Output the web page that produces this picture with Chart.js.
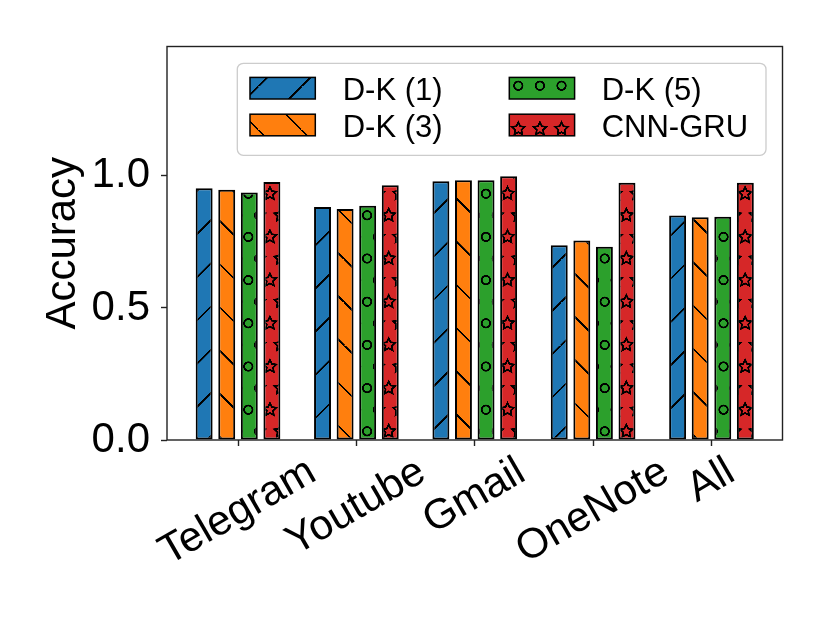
<!DOCTYPE html>
<html>
<head>
<meta charset="utf-8">
<script src="https://cdn.jsdelivr.net/npm/chart.js@4.4.1/dist/chart.umd.min.js"></script>
<style>
  html, body { margin: 0; padding: 0; background: #fff; }
  #wrap { width: 830px; height: 623px; }
</style>
</head>
<body>
<div id="wrap"><canvas id="accChart" width="830" height="623"></canvas></div>
<script>
// values
const categories = ['Telegram', 'Youtube', 'Gmail', 'OneNote', 'All'];
const seriesNames = ['D-K (1)', 'D-K (3)', 'D-K (5)', 'CNN-GRU'];
const dk1 = [0.953, 0.882, 0.980, 0.737, 0.850];
const dk3 = [0.948, 0.875, 0.984, 0.755, 0.843];
const dk5 = [0.937, 0.887, 0.984, 0.732, 0.845];
const cnnGru = [0.977, 0.965, 0.999, 0.974, 0.974];
const yTicks = [0.0, 0.5, 1.0];

const FONT = '"Liberation Sans", Arial, Helvetica, sans-serif';
const BIG = 42;
const canvas = document.getElementById('accChart');
const ctx = canvas.getContext('2d');

// hatch tiles are drawn 5x larger and scaled back so the period can be fractional
const K = 5;
function hatchPattern(base, w, h, ox, oy, drawFn) {
    const c = document.createElement('canvas');
    c.width = Math.round(w * K);
    c.height = Math.round(h * K);
    const g = c.getContext('2d');
    g.fillStyle = base;
    g.fillRect(0, 0, c.width, c.height);
    g.scale(K, K);
    g.strokeStyle = '#000';
    g.lineWidth = 1.8;
    drawFn(g, w, h);
    const p = ctx.createPattern(c, 'repeat');
    p.setTransform(new DOMMatrix().translate(ox, oy).scale(1 / K));
    return p;
}

const LINE = 43.2;   // spacing of the diagonal hatch
const CELL = 21.6;   // spacing of the circle / star hatch

function shapeSpots(w, h) {
    return [[0, 0], [w, 0], [0, h], [w, h], [w / 2, h / 2]];
}

function starPath(g, cx, cy, r) {
    g.beginPath();
    for (let k = 0; k < 10; k++) {
        const rad = k % 2 === 0 ? r : r * 0.5;
        const a = -Math.PI / 2 + k * Math.PI / 5;
        const px = cx + rad * Math.cos(a);
        const py = cy + rad * Math.sin(a);
        if (k === 0) g.moveTo(px, py); else g.lineTo(px, py);
    }
    g.closePath();
    g.stroke();
}

const patBlue = hatchPattern('#1f77b4', LINE, LINE, 517.5, 0, (g, w) => {
    g.beginPath();
    for (let k = -1; k <= 1; k++) {
        g.moveTo(k * w, w);
        g.lineTo(k * w + w, 0);
    }
    g.stroke();
});

const patOrange = hatchPattern('#ff7f0e', LINE, LINE, -130.8, 0, (g, w) => {
    g.beginPath();
    for (let k = -1; k <= 1; k++) {
        g.moveTo(k * w, 0);
        g.lineTo(k * w + w, w);
    }
    g.stroke();
});

const patGreen = hatchPattern('#2ca02c', CELL, CELL * 2, 248.3, 323.3, (g, w, h) => {
    shapeSpots(w, h).forEach(([x, y]) => {
        g.beginPath();
        g.arc(x, y, 4.2, 0, Math.PI * 2);
        g.stroke();
    });
});

const patRed = hatchPattern('#d62728', CELL, CELL * 2, 248.3, 323.3, (g, w, h) => {
    shapeSpots(w, h).forEach(([x, y]) => starPath(g, x, y, 6.6));
});

const seriesValues = [dk1, dk3, dk5, cnnGru];
const seriesFills = [patBlue, patOrange, patGreen, patRed];

const datasets = seriesNames.map((name, s) => ({
    label: name,
    data: seriesValues[s].map((v, i) => ({ x: i, y: v })),
    backgroundColor: seriesFills[s],
    borderColor: '#000',
    borderWidth: 2,
    borderSkipped: false,
    categoryPercentage: 0.763,
    barPercentage: 0.75
}));

// box around the plot area, like the matplotlib spines
const framePlugin = {
    id: 'frame',
    afterDraw(chart) {
        const a = chart.chartArea;
        const c = chart.ctx;
        c.save();
        c.strokeStyle = '#222';
        c.lineWidth = 1.4;
        c.strokeRect(a.left, a.top, a.right - a.left, a.bottom - a.top);
        c.restore();
    }
};

// rotated category labels, centred under each tick
const xLabelPlugin = {
    id: 'xLabels',
    afterDraw(chart) {
        const c = chart.ctx;
        const xs = chart.scales.x;
        const size = BIG;
        const asc = 0.729 * size, desc = 0.21 * size;
        const h = asc + desc;
        const rot = 30 * Math.PI / 180;
        const top = chart.chartArea.bottom + 6.3 + 6.3;
        c.save();
        c.font = size + 'px ' + FONT;
        c.fillStyle = '#000';
        c.textAlign = 'center';
        c.textBaseline = 'alphabetic';
        categories.forEach((label, i) => {
            const w = c.measureText(label).width;
            const H = w * Math.sin(rot) + h * Math.cos(rot);
            const cx = xs.getPixelForValue(i);
            const cy = top + H / 2;
            c.save();
            c.translate(cx, cy);
            c.rotate(-rot);
            c.fillText(label, 0, (asc - desc) / 2);
            c.restore();
        });
        c.restore();
    }
};

// two-column legend in the upper part of the plot
const legendPlugin = {
    id: 'boxLegend',
    afterDraw(chart) {
        const c = chart.ctx;
        const box = { x: 237.3, y: 63.3, w: 528.7, h: 92 };
        c.save();
        c.beginPath();
        c.roundRect(box.x, box.y, box.w, box.h, 6);
        c.fillStyle = 'rgba(255,255,255,0.8)';
        c.fill();
        c.strokeStyle = '#cccccc';
        c.lineWidth = 1.3;
        c.stroke();

        const patchX = [250, 509.3];
        const textX = [342.7, 601.7];
        const patchY = [77.4, 114.2];
        const baseY = [100, 136.7];
        c.font = '31px ' + FONT;
        c.textBaseline = 'alphabetic';
        c.textAlign = 'left';
        chart.data.datasets.forEach((ds, i) => {
            const col = Math.floor(i / 2), row = i % 2;
            c.fillStyle = ds.backgroundColor;
            c.fillRect(patchX[col], patchY[row], 65.3, 21.6);
            c.strokeStyle = '#000';
            c.lineWidth = 1.5;
            c.strokeRect(patchX[col], patchY[row], 65.3, 21.6);
            c.fillStyle = '#000';
            c.fillText(ds.label, textX[col], baseY[row]);
        });
        c.restore();
    }
};

const chart = new Chart(ctx, {
    type: 'bar',
    data: { datasets: datasets },
    options: {
        responsive: false,
        animation: false,
        devicePixelRatio: 1,
        layout: { padding: { left: 0, right: 47.5, top: 46.5, bottom: 0 } },
        plugins: {
            legend: { display: false },
            tooltip: { enabled: false }
        },
        scales: {
            x: {
                type: 'linear',
                offset: false,
                min: -0.6,
                max: 4.6,
                afterBuildTicks: (scale) => {
                    scale.ticks = categories.map((c, i) => ({ value: i }));
                },
                afterFit: (scale) => { scale.height = 183; },
                ticks: { display: false },
                grid: {
                    offset: false,
                    drawOnChartArea: false,
                    drawTicks: true,
                    tickLength: 6,
                    tickColor: '#222',
                    tickWidth: 1.4
                },
                border: { display: false }
            },
            y: {
                min: 0,
                max: 1.49,
                afterBuildTicks: (scale) => {
                    scale.ticks = yTicks.map(v => ({ value: v }));
                },
                afterFit: (scale) => { scale.width = 167; },
                ticks: {
                    color: '#000',
                    padding: 11,
                    font: { family: FONT, size: BIG },
                    callback: (v) => Number(v).toFixed(1)
                },
                grid: {
                    drawOnChartArea: false,
                    drawTicks: true,
                    tickLength: 6,
                    tickColor: '#222',
                    tickWidth: 1.4
                },
                border: { display: false },
                title: {
                    display: true,
                    text: 'Accuracy',
                    color: '#000',
                    font: { family: FONT, size: BIG },
                    padding: { top: 38, bottom: 0 }
                }
            }
        }
    },
    plugins: [framePlugin, xLabelPlugin, legendPlugin]
});
</script>
</body>
</html>
